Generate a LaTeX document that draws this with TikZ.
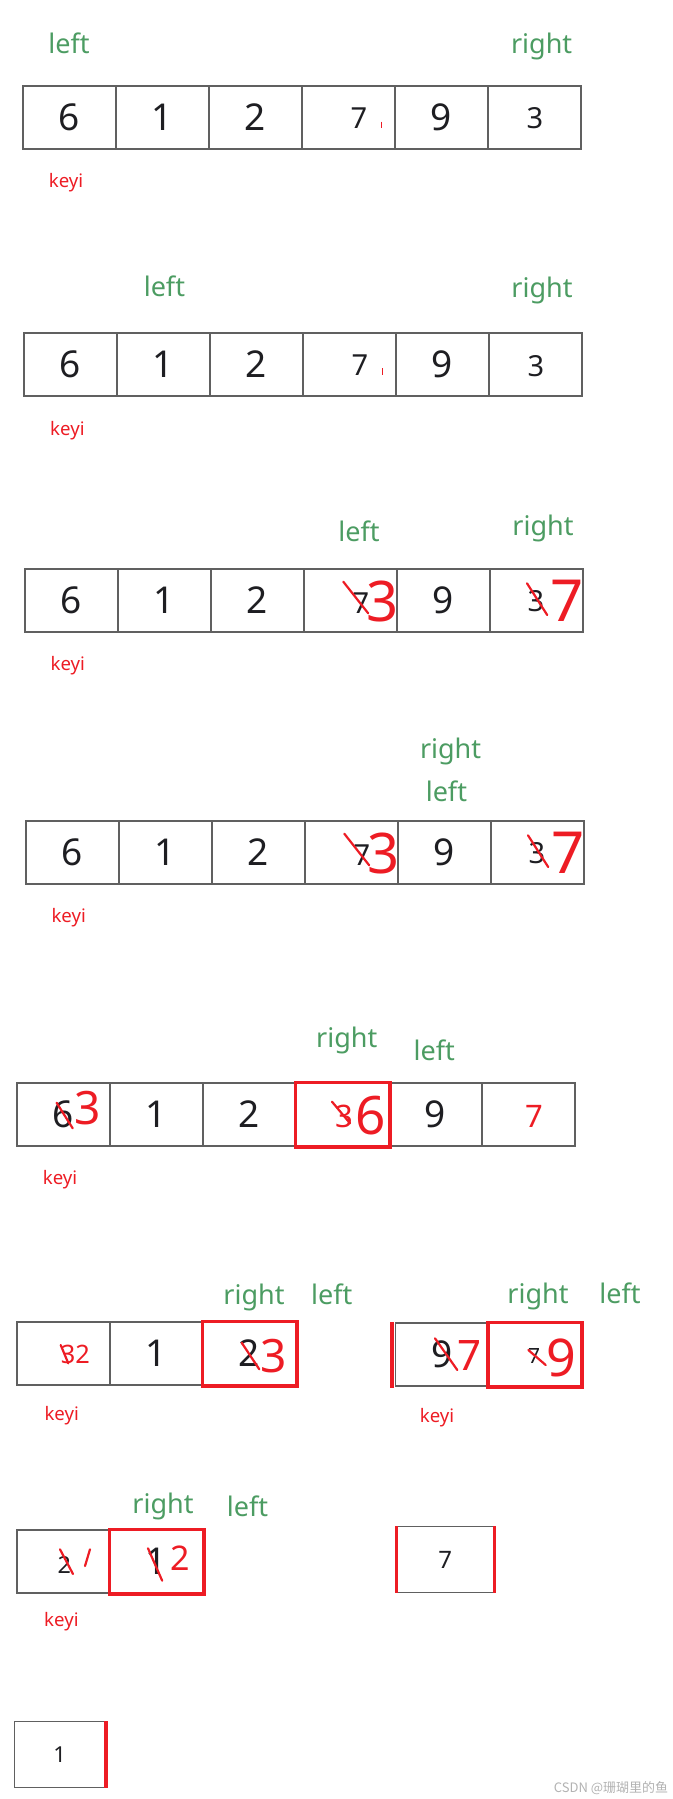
\documentclass[tikz,border=0pt]{standalone}
\usepackage{fontspec}
\setmainfont{Noto Sans}
\newfontfamily\cjkfont{Noto Sans CJK SC}
\definecolor{ptr}{RGB}{76,156,98}
\definecolor{pen}{RGB}{237,28,36}
\definecolor{ink}{RGB}{30,30,34}
\definecolor{edge}{RGB}{96,96,96}
\definecolor{wmark}{RGB}{178,178,178}
\usetikzlibrary{positioning}
\tikzset{
  cell/.style={draw=edge, line width=0.7pt, minimum width=46.5pt, minimum height=31.5pt,
               inner sep=0pt, text=ink, font=\fontsize{18.5}{19}\selectfont},
  digit/.style={inner sep=0pt, text=ink, font=\fontsize{#1}{#1}\selectfont},
  hand/.style={inner sep=0pt, text=pen, font=\fontsize{#1}{#1}\selectfont},
  ptrlabel/.style={anchor=base, inner sep=0pt, text=ptr, font=\fontsize{13.5}{14}\selectfont},
  keylabel/.style={anchor=base, inner sep=0pt, text=pen, font=\fontsize{9.3}{10}\selectfont},
  pick/.style={draw=pen, line width=1.8pt},
  scratch/.style={draw=pen, line width=1.1pt, line cap=round},
}

\begin{document}
\begin{tikzpicture}[x=0.5pt, y=-0.5pt]
    \useasboundingbox (0,0) rectangle (673,1799);
    % --- row 1: left and right at both ends ---
    \node[ptrlabel] (a-left) at (69,53.5) {left};
    \node[ptrlabel] (a-right) at (541.6,53.5) {right};
    \foreach \v [count=\i] in {6,1,2,{},9,{}}
      \node[cell] (a\i) at ({23+93*(\i-0.5)},117.5) {\v};
    \node[digit=14.5] (a-seven) at (359,118) {7};
    \node[digit=14.5] (a-three) at (535,118) {3};
    \draw[pen,line width=0.35pt] (381,121.7) -- (381,127.7);
    \node[keylabel] (a-key) at (66,187) {keyi};
    % --- row 2: left moves on ---
    \node[ptrlabel] (b-left) at (164.4,296.7) {left};
    \node[ptrlabel] (b-right) at (542,297) {right};
    \foreach \v [count=\i] in {6,1,2,{},9,{}}
      \node[cell] (b\i) at ({24+93*(\i-0.5)},364.5) {\v};
    \node[digit=14.5] (b-seven) at (360,365.5) {7};
    \node[digit=14.5] (b-three) at (536,366) {3};
    \draw[pen,line width=0.35pt] (382,368) -- (382,375);
    \node[keylabel] (b-key) at (67.4,435) {keyi};
    % --- row 3: swap 7 and 3 ---
    \node[ptrlabel] (c-left) at (359,541.7) {left};
    \node[ptrlabel] (c-right) at (543,535) {right};
    \foreach \v [count=\i] in {6,1,2,{},9,{}}
      \node[cell] (c\i) at ({25+93*(\i-0.5)},600.5) {\v};
    \node[digit=14.5] (c-seven) at (361,603) {7};
    \node[digit=14.5] (c-three) at (536,601) {3};
    \draw[scratch] (343.3,581.7) -- (368.2,613.3);
    \node[hand=28] (c-new3) at (383,601.7) {3};
    \draw[scratch] (527,583.3) -- (547.2,615);
    \node[hand=29] (c-new7) at (567,601) {7};
    \node[keylabel] (c-key) at (67.8,670.6) {keyi};
    % --- row 4: right meets left ---
    \node[ptrlabel] (d-right) at (450.6,758.3) {right};
    \node[ptrlabel] (d-left) at (446.4,801.7) {left};
    \foreach \v [count=\i] in {6,1,2,{},9,{}}
      \node[cell] (d\i) at ({26+93*(\i-0.5)},852.5) {\v};
    \node[digit=14.5] (d-seven) at (362,855) {7};
    \node[digit=14.5] (d-three) at (537,853) {3};
    \draw[scratch] (344.3,833.7) -- (369.2,865.3);
    \node[hand=28] (d-new3) at (384,853.7) {3};
    \draw[scratch] (528,835.3) -- (548.2,867);
    \node[hand=29] (d-new7) at (568,853) {7};
    \node[keylabel] (d-key) at (68.7,922.3) {keyi};
    % --- row 5: key goes to its place ---
    \node[ptrlabel] (e-right) at (346.8,1047.3) {right};
    \node[ptrlabel] (e-left) at (434.3,1060.7) {left};
    \foreach \v [count=\i] in {6,1,2,{},9,{}}
      \node[cell] (e\i) at ({17+93*(\i-0.5)},1114.5) {\v};
    \draw[scratch] (56.6,1102.7) -- (72.7,1128.3);
    \node[hand=23] (e-new3) at (88,1108) {3};
    \draw[pick] (e4.north west) rectangle (e4.south east);
    \node[hand=15.5] (e-old3) at (344.4,1116.7) {3};
    \draw[scratch] (332,1101.7) -- (350,1123.3);
    \node[hand=26.5] (e-new6) at (370.5,1116) {6};
    \node[hand=15.5] (e-seven) at (534,1116.7) {7};
    \node[keylabel] (e-key) at (60,1184) {keyi};
    % --- row 6: the two halves ---
    \node[ptrlabel] (f-right) at (254,1304.3) {right};
    \node[ptrlabel] (f-left) at (331.8,1304) {left};
    \foreach \v [count=\i] in {{},1,2}
      \node[cell] (f\i) at ({17+93*(\i-0.5)},1353.5) {\v};
    \node[hand=12.7] (f-pair) at (75.4,1354) {32};
    \draw[scratch] (60.7,1345) -- (68.3,1363.3);
    \draw[scratch] (241.7,1342.7) -- (259.3,1369.3);
    \node[hand=23] (f-new3) at (274,1356) {3};
    \draw[pick] (f3.north west) rectangle (f3.south east);
    \node[keylabel] (f-key) at (61.7,1420.6) {keyi};
    \node[ptrlabel] (g-right) at (538,1303.3) {right};
    \node[ptrlabel] (g-left) at (620,1303.3) {left};
    \foreach \v [count=\i] in {9,{}}
      \node[cell] (g\i) at ({395.5+93*(\i-0.5)},1354.5) {\v};
    \draw[scratch] (435,1338.3) -- (457.3,1370);
    \node[hand=21] (g-new7) at (470,1355) {7};
    \node[digit=10.5] (g-seven) at (534,1356) {7};
    \draw[scratch] (528.3,1350) -- (545.7,1365);
    \node[hand=26] (g-new9) at (561.7,1357.5) {9};
    \draw[pick] (g2.north west) rectangle (g2.south east);
    \draw[pick] ([xshift=-1.4pt]g1.north west) -- ([xshift=-1.4pt,yshift=-0.8pt]g1.south west);
    \node[keylabel] (g-key) at (437,1422) {keyi};
    % --- row 7 ---
    \node[ptrlabel] (h-right) at (163,1513.3) {right};
    \node[ptrlabel] (h-left) at (247.6,1516.7) {left};
    \foreach \v [count=\i] in {{},1}
      \node[cell] (h\i) at ({17+93*(\i-0.5)},1561.5) {\v};
    \node[digit=11.7] (h-two) at (64.4,1565) {2};
    \draw[scratch] (60,1549.3) -- (73,1574);
    \draw[scratch] (90,1549.3) -- (85,1566);
    \draw[scratch] (148,1548.3) -- (162.2,1580.7);
    \node[hand=17] (h-new2) at (180,1558) {2};
    \draw[pick] (h2.north west) rectangle (h2.south east);
    \node[keylabel] (h-key) at (61.4,1626) {keyi};
    \node[cell, minimum width=48.3pt, minimum height=33pt, font=\fontsize{12}{12}\selectfont]
      (k) at (445.3,1559.7) {7};
    \draw[pick] (k.north west) -- (k.south west);
    \draw[pick] (k.north east) -- (k.south east);
    % --- row 8 ---
    \node[cell, minimum width=45.5pt, minimum height=33pt, font=\fontsize{11}{11}\selectfont]
      (m) at (59.7,1754.7) {1};
    \draw[pick] (m.north east) -- (m.south east);
    \node[text=wmark, font=\cjkfont\fontsize{6.5}{7}\selectfont] (wm) at (611,1788) {CSDN @珊瑚里的鱼};
\end{tikzpicture}
\end{document}
